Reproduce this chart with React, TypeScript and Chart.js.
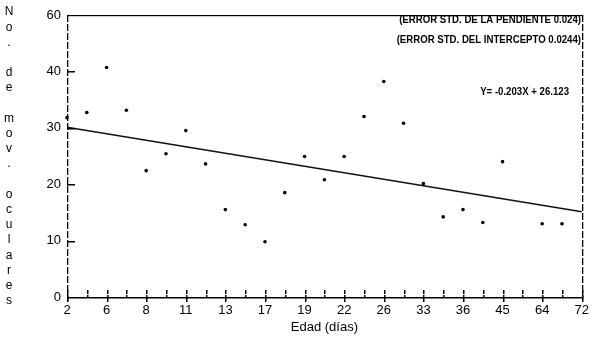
import React, { useEffect, useRef } from 'react';
import { Chart, registerables } from 'chart.js';

Chart.register(...registerables);

// ---- data ----
const xTickLabels: string[] = ['2', '6', '8', '11', '13', '17', '19', '22', '26', '33', '36', '45', '64', '72'];
// 27 slots: a labelled age every second slot
const categories: string[] = Array.from({ length: xTickLabels.length * 2 - 1 }, (_, i) =>
  i % 2 === 0 ? xTickLabels[i / 2] : ''
);
const movements: (number | null)[] = [
  31.8, 32.7, 40.7, 33.1, 22.4, 25.4, 29.5, 23.6, 15.5, 12.8, 9.8, 18.5, 24.9, 20.8,
  24.9, 32.0, 38.2, 30.8, 20.1, 14.2, 15.5, 13.2, 24.0, null, 13.0, 13.0, null,
];
const fitStart = 30.1;
const fitEnd = 15.1;
const yTickLabels: string[] = ['0', '10', '20', '30', '40', '60'];
const yInnerTicks: number[] = [10, 20, 30, 40];
const yTitle = 'No. de mov. oculares';
const xTitle = 'Edad (días)';
const notes: string[] = [
  '(ERROR STD. DE LA PENDIENTE 0.024)',
  '(ERROR STD. DEL INTERCEPTO 0.0244)',
  'Y= -0.203X + 26.123',
];

const regression: (number | null)[] = categories.map((_, i) =>
  i === 0 ? fitStart : i === categories.length - 1 ? fitEnd : null
);

const FONT = '"Liberation Sans", Arial, sans-serif';

const decorPlugin = {
  id: 'decor',
  afterDraw(chart: any) {
    const { ctx, chartArea: a, scales } = chart;
    const x = scales.x;
    const y = scales.y;
    const L = Math.round(a.left);
    const R = Math.round(a.right);
    const T = Math.round(a.top);
    const B = Math.round(a.bottom);
    ctx.save();
    ctx.fillStyle = '#000';
    // frame: bottom and top solid
    ctx.fillRect(L, B, R - L + 1, 1.5);
    ctx.fillRect(L, T, R - L + 1, 1.2);
    // left and right sides, broken like the plotter trace
    for (let py = T; py < B + 4; py += 9) {
      ctx.fillRect(L, py, 1.3, Math.min(7, B + 4 - py));
      if (py < B + 2) ctx.fillRect(R, py, 1.3, Math.min(7, B + 2 - py));
    }
    // inner y ticks
    yInnerTicks.forEach((v) => {
      const py = Math.round(y.getPixelForValue(v));
      ctx.fillRect(L, py, 8, 1.5);
    });
    // x ticks
    categories.forEach((c, i) => {
      const px = Math.round(x.getPixelForValue(i));
      ctx.fillRect(px, B - 7, 1.5, 4);
      ctx.fillRect(px, B - 2, 1.5, c ? 7 : 3);
    });

    // stacked y title
    ctx.font = `12px ${FONT}`;
    ctx.textAlign = 'center';
    ctx.textBaseline = 'middle';
    const chars = yTitle.split('');
    const step = (301 - 12) / (chars.length - 1);
    chars.forEach((ch, i) => {
      if (ch !== ' ') ctx.fillText(ch, 9, 12 + i * step);
    });

    // notes
    ctx.font = `bold 11px ${FONT}`;
    ctx.textAlign = 'right';
    const noteSpots = [
      [581, 20],
      [581, 40],
      [569, 92],
    ];
    notes.forEach((t, i) => {
      ctx.save();
      ctx.translate(noteSpots[i][0], noteSpots[i][1]);
      ctx.scale(0.875, 1);
      ctx.fillText(t, 0, 0);
      ctx.restore();
    });
    ctx.restore();
  },
};

export default function App() {
  const ref = useRef<HTMLCanvasElement>(null);
  useEffect(() => {
    document.body.style.margin = '0';
    const canvas = ref.current!;
    const chart = new Chart(canvas, {
      type: 'line',
      data: {
        labels: categories,
        datasets: [
          {
            label: 'recta',
            data: regression,
            borderColor: '#111',
            borderWidth: 1.5,
            pointRadius: 0,
            spanGaps: true,
            fill: false,
          },
          {
            label: 'movimientos',
            data: movements,
            showLine: false,
            pointRadius: 1.8,
            pointBackgroundColor: '#000',
            pointBorderWidth: 0,
            borderColor: '#000',
          },
        ],
      },
      options: {
        responsive: false,
        animation: false,
        layout: { padding: { left: 0, right: 12, top: 15, bottom: 0 } },
        plugins: { legend: { display: false }, tooltip: { enabled: false } },
        scales: {
          x: {
            type: 'category',
            offset: false,
            grid: { display: false, drawTicks: false },
            border: { display: false },
            ticks: {
              autoSkip: false,
              maxRotation: 0,
              padding: 6,
              color: '#000',
              font: { family: FONT, size: 13 },
            },
            title: {
              display: true,
              text: xTitle,
              color: '#000',
              font: { family: FONT, size: 13 },
              padding: { top: 0, bottom: 17 },
            },
            afterFit: (s: any) => {
              s.height = 55;
            },
          },
          y: {
            min: 0,
            max: 50,
            grid: { display: false, drawTicks: false },
            border: { display: false },
            ticks: {
              stepSize: 10,
              padding: 6,
              color: '#000',
              font: { family: FONT, size: 13 },
              callback: (_v: any, i: number) => yTickLabels[i],
            },
            afterFit: (s: any) => {
              s.width = 67;
            },
          },
        },
      },
      plugins: [decorPlugin],
    });
    return () => chart.destroy();
  }, []);
  return <canvas ref={ref} width={595} height={352} style={{ display: 'block' }} />;
}
